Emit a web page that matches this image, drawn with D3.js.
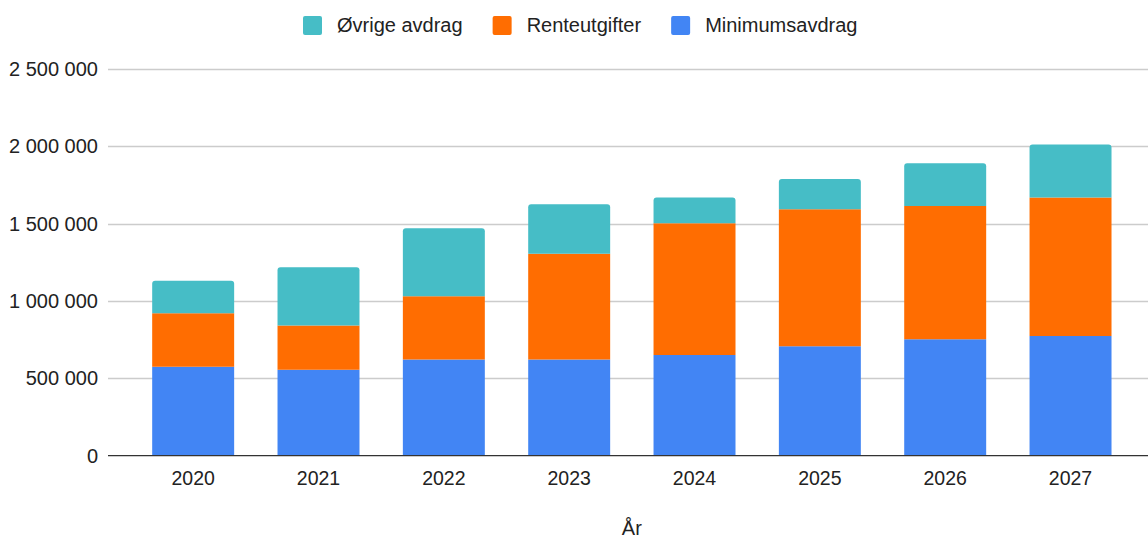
<!DOCTYPE html>
<html>
<head>
<meta charset="utf-8">
<script src="https://cdn.jsdelivr.net/npm/d3@7"></script>
<style>
  body { margin: 0; background: #fff; }
  text { font-family: "Liberation Sans", Arial, sans-serif; fill: #222; }
</style>
</head>
<body>
<svg id="chart" width="1148" height="540"></svg>
<script>
var years = ["2020", "2021", "2022", "2023", "2024", "2025", "2026", "2027"];
var minimumsavdrag = [575000, 555000, 622000, 622000, 650000, 708000, 752000, 773000];
var renteutgifter = [345000, 287000, 408000, 683000, 852000, 884000, 862000, 895000];
var ovrigeAvdrag = [210000, 375000, 440000, 320000, 166000, 196000, 276000, 343000];
var yTicks = [0, 500000, 1000000, 1500000, 2000000, 2500000];

var seriesNames = ["Minimumsavdrag", "Renteutgifter", "Øvrige avdrag"];
var colors = ["#4285f4", "#ff6d01", "#46bdc6"];

var svg = d3.select("#chart");

var x = d3.scaleBand()
    .domain(years)
    .range([130.5, 1133.2])
    .paddingInner(0.346)
    .paddingOuter(0.173);

var y = d3.scaleLinear()
    .domain([0, 2500000])
    .range([455.7, 68.8]);

var fmt = function(v) { return d3.format(",")(v).replace(/,/g, " "); };

// gridlines
svg.append("g").selectAll("line")
  .data(yTicks.slice(1))
  .enter().append("line")
    .attr("x1", 108).attr("x2", 1148)
    .attr("y1", function(d) { return Math.round(y(d)) + 0.5; })
    .attr("y2", function(d) { return Math.round(y(d)) + 0.5; })
    .attr("stroke", "#cccccc").attr("stroke-width", 1.3);

// y labels
svg.append("g").selectAll("text")
  .data(yTicks)
  .enter().append("text")
    .attr("x", 98)
    .attr("y", function(d) { return y(d); })
    .attr("dy", "0.35em")
    .attr("text-anchor", "end")
    .style("font-size", "20px")
    .text(fmt);

// stacked bars
var rows = years.map(function(yr, i) {
  return { year: yr, Minimumsavdrag: minimumsavdrag[i], Renteutgifter: renteutgifter[i], "Øvrige avdrag": ovrigeAvdrag[i] };
});
var stack = d3.stack().keys(seriesNames)(rows);

function topRounded(x0, y0, w, h, r) {
  return "M" + x0 + "," + (y0 + h) + "V" + (y0 + r) +
    "Q" + x0 + "," + y0 + " " + (x0 + r) + "," + y0 +
    "H" + (x0 + w - r) +
    "Q" + (x0 + w) + "," + y0 + " " + (x0 + w) + "," + (y0 + r) +
    "V" + (y0 + h) + "Z";
}

stack.forEach(function(layer, li) {
  svg.append("g").attr("fill", colors[li]).selectAll("path")
    .data(layer)
    .enter().append("path")
      .attr("d", function(d) {
        var top = y(d[1]), bot = y(d[0]);
        var r = li === stack.length - 1 ? 3 : 0;
        return topRounded(x(d.data.year), top, x.bandwidth(), bot - top, r);
      });
});

// baseline
svg.append("line")
  .attr("x1", 108).attr("x2", 1148)
  .attr("y1", 455.7).attr("y2", 455.7)
  .attr("stroke", "#333").attr("stroke-width", 1.3);

// x labels
svg.append("g").selectAll("text")
  .data(years)
  .enter().append("text")
    .attr("x", function(d) { return x(d) + x.bandwidth() / 2; })
    .attr("y", 485)
    .attr("text-anchor", "middle")
    .style("font-size", "19.5px")
    .text(function(d) { return d; });

// axis title
svg.append("text")
  .attr("x", (x.range()[0] + x.range()[1]) / 2)
  .attr("y", 535)
  .attr("text-anchor", "middle")
  .style("font-size", "20px")
  .text("År");

// legend
var legendOrder = [2, 1, 0];
var lx = 303;
var legend = svg.append("g");
legendOrder.forEach(function(si) {
  legend.append("rect")
    .attr("x", lx).attr("y", 16)
    .attr("width", 19).attr("height", 19)
    .attr("rx", 2)
    .attr("fill", colors[si]);
  var t = legend.append("text")
    .attr("x", lx + 34).attr("y", 32)
    .style("font-size", "20px")
    .text(seriesNames[si]);
  lx += 34 + t.node().getComputedTextLength() + 30;
});
</script>
</body>
</html>
